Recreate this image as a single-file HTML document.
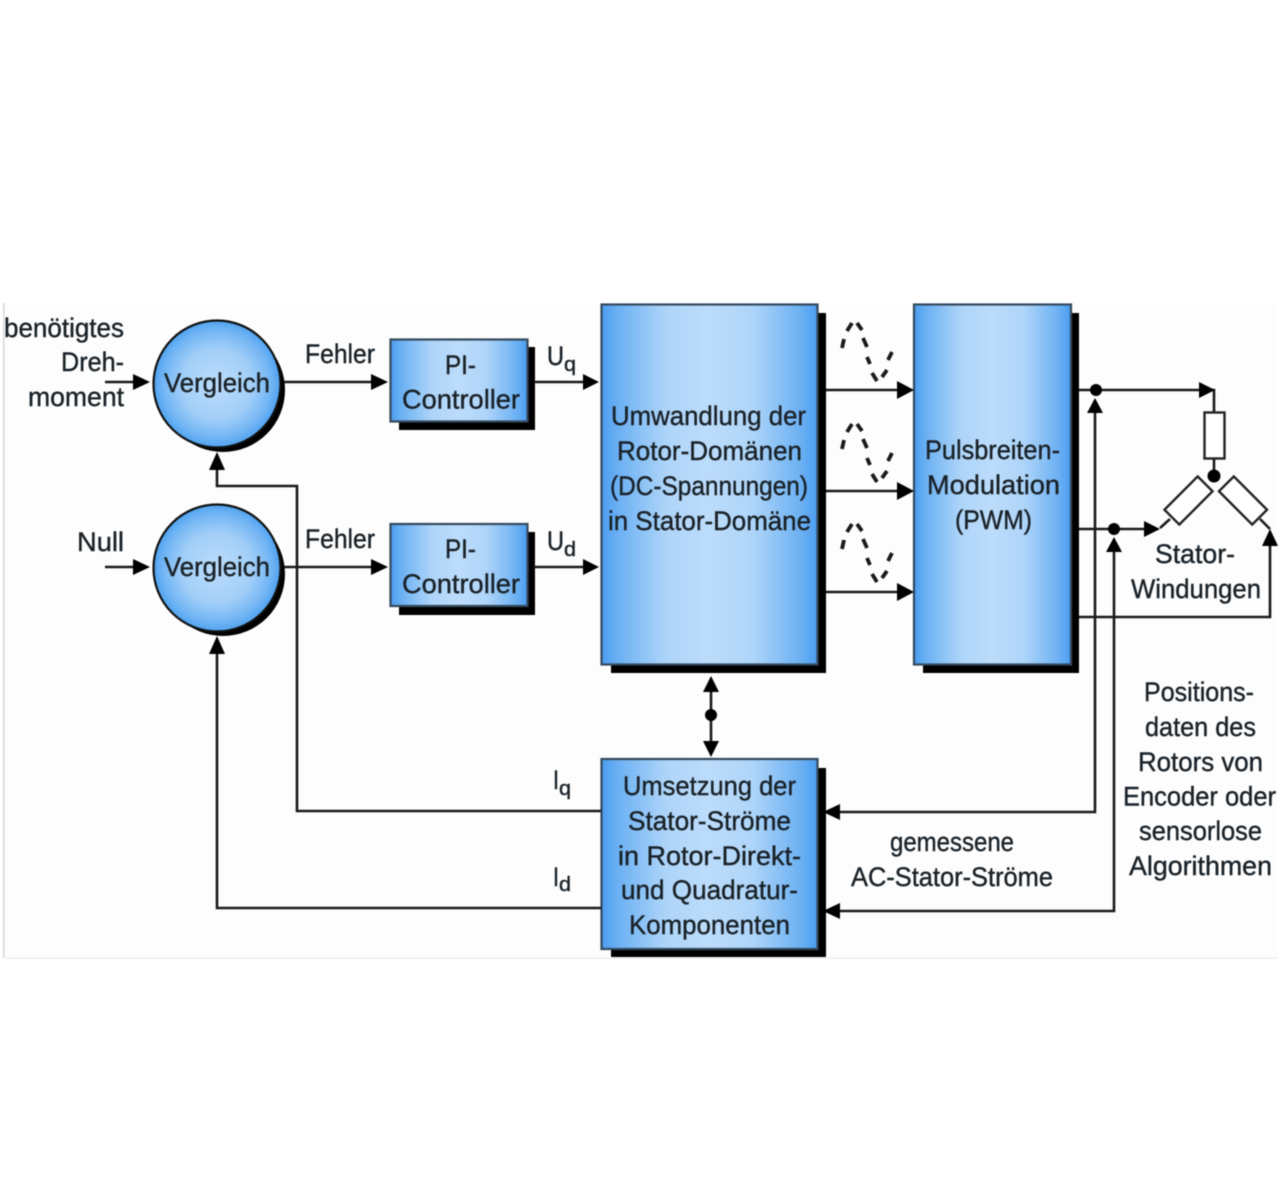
<!DOCTYPE html>
<html lang="de"><head><meta charset="utf-8"><title>Diagramm</title>
<style>
html,body{margin:0;padding:0;background:#fff;width:1280px;height:1190px;overflow:hidden}
svg{display:block;filter:blur(.55px)}
text{font-family:"Liberation Sans",sans-serif;font-size:27px;fill:#1a2228;stroke:#1a2228;stroke-width:.4}
.s{font-size:20px}
.w{fill:none;stroke:#1a1a1a;stroke-width:2.6}
.h{fill:#000}
</style></head><body>
<svg width="1280" height="1190" viewBox="0 0 1280 1190" xmlns="http://www.w3.org/2000/svg">
<defs>
<linearGradient id="g" x1="0" x2="1" y1="0" y2="0"><stop offset="0" stop-color="#4a9df0"/><stop offset=".08" stop-color="#6cb1f3"/><stop offset=".3" stop-color="#aed5f9"/><stop offset=".5" stop-color="#bcdcfb"/><stop offset=".7" stop-color="#aed5f9"/><stop offset=".92" stop-color="#6cb1f3"/><stop offset="1" stop-color="#4a9df0"/></linearGradient>
<radialGradient id="r" cx=".5" cy=".5" r=".5"><stop offset="0" stop-color="#bcdcfb"/><stop offset=".55" stop-color="#a2cff8"/><stop offset=".85" stop-color="#72b5f4"/><stop offset="1" stop-color="#4fa2f0"/></radialGradient>
</defs>
<rect x="3" y="303" width="1274" height="655" fill="#fdfdfd"/>
<rect x="3" y="303" width="1.5" height="655" fill="#d8d8d8"/>
<rect x="3" y="957.500" width="1274" height="1.5" fill="#efefef"/>

<!-- shadows -->
<circle cx="223" cy="390" r="62" fill="#000"/><circle cx="223" cy="574" r="62" fill="#000"/>
<rect x="399" y="347" width="136" height="83" fill="#000"/><rect x="399" y="532" width="136" height="83" fill="#000"/>
<rect x="611" y="313" width="215" height="360" fill="#000"/><rect x="923" y="313" width="156" height="360" fill="#000"/>
<rect x="611" y="768" width="215" height="189" fill="#000"/>

<!-- boxes -->
<circle cx="217" cy="384" r="63.500" fill="url(#r)" stroke="#111" stroke-width="2.2"/>
<circle cx="217" cy="568" r="63.500" fill="url(#r)" stroke="#111" stroke-width="2.2"/>
<g stroke="#34495c" stroke-width="2.2">
<rect x="390.500" y="339.500" width="137" height="82" fill="url(#g)"/>
<rect x="390.500" y="524" width="137" height="82" fill="url(#g)"/>
<rect x="601.500" y="304.500" width="216" height="360" fill="url(#g)"/>
<rect x="914" y="304.500" width="157" height="360" fill="url(#g)"/>
<rect x="601.500" y="759" width="216" height="190" fill="url(#g)"/>
</g>

<!-- wires -->
<g class="w">
<path d="M105 382H138M284 382H375M534 382H588M105 567H138M284 567H375M534 567H588"/>
<path d="M826 390H900M826 491H900M826 592H900"/>
<path d="M601 811H297V486H217V462M601 908H217V648"/>
<path d="M711 688V744"/>
<path d="M1079 390H1214V412M1079 529H1148M1079 617H1270V545"/>
<path d="M1095 405V812H836M1114 545V911H836"/>
<path d="M1214 459V476M1160 528L1170 519M1260 519L1270 529"/>
</g>
<rect x="1204.500" y="412.500" width="20" height="46" fill="#fff" stroke="#222" stroke-width="2.4"/>
<g fill="#fff" stroke="#222" stroke-width="2.4">
<rect x="-10.500" y="-23.500" width="21" height="47" transform="translate(1188.500 500.500) rotate(45)"/>
<rect x="-10.500" y="-23.500" width="21" height="47" transform="translate(1243 500.500) rotate(-45)"/>
</g>

<!-- arrowheads -->
<g class="h">
<path d="M150 382L133 374V390Z"/><path d="M150 567L133 559V575Z"/>
<path d="M388 382L371 374V390Z"/><path d="M388 567L371 559V575Z"/>
<path d="M599 382L583 374V390Z"/><path d="M599 567L583 559V575Z"/>
<path d="M914 390L897 381V399Z"/><path d="M914 491L897 482V500Z"/><path d="M914 592L897 583V601Z"/>
<path d="M217 452L209 470H225Z"/><path d="M217 636L209 654H225Z"/>
<path d="M711 676L703 692H719Z"/><path d="M711 757L703 741H719Z"/>
<path d="M823 812L840 804V820Z"/><path d="M823 911L840 903V919Z"/>
<path d="M1215 390L1199 382V398Z"/><path d="M1160 529L1144 521V537Z"/>
<path d="M1095 398L1087 413H1103Z"/><path d="M1114 537L1106 552H1122Z"/><path d="M1270 529L1262 546H1278Z"/>
<circle cx="1096" cy="390" r="6"/><circle cx="1114" cy="529" r="6"/><circle cx="1214" cy="476" r="6.500"/><circle cx="711" cy="715" r="6"/>
</g>

<!-- sine waves -->
<g fill="none" stroke="#1a1a1a" stroke-width="3.800">
<path id="w1" d="M842 348L844 339M847 331L852 323M857 323L862 330M863 338L867 347M867 357L870 364M872 373L877 381M882 377L887 370M888 360L892 352"/>
<path transform="translate(0 101)" d="M842 348L844 339M847 331L852 323M857 323L862 330M863 338L867 347M867 357L870 364M872 373L877 381M882 377L887 370M888 360L892 352"/>
<path transform="translate(0 201)" d="M842 348L844 339M847 331L852 323M857 323L862 330M863 338L867 347M867 357L870 364M872 373L877 381M882 377L887 370M888 360L892 352"/>
</g>

<!-- labels -->
<text x="4" y="337" textLength="120" lengthAdjust="spacingAndGlyphs">benötigtes</text>
<text x="61" y="371" textLength="63" lengthAdjust="spacingAndGlyphs">Dreh-</text>
<text x="28" y="406" textLength="96" lengthAdjust="spacingAndGlyphs">moment</text>
<text x="77" y="551" textLength="47" lengthAdjust="spacingAndGlyphs">Null</text>
<text x="164" y="392" textLength="106" lengthAdjust="spacingAndGlyphs">Vergleich</text>
<text x="164" y="576" textLength="106" lengthAdjust="spacingAndGlyphs">Vergleich</text>
<text x="305" y="363" textLength="70" lengthAdjust="spacingAndGlyphs">Fehler</text>
<text x="305" y="548" textLength="70" lengthAdjust="spacingAndGlyphs">Fehler</text>
<text x="445" y="374" textLength="31" lengthAdjust="spacingAndGlyphs">PI-</text>
<text x="402" y="408.500" textLength="118" lengthAdjust="spacingAndGlyphs">Controller</text>
<text x="445" y="558" textLength="31" lengthAdjust="spacingAndGlyphs">PI-</text>
<text x="402" y="593" textLength="118" lengthAdjust="spacingAndGlyphs">Controller</text>
<text x="547" y="365" textLength="17" lengthAdjust="spacingAndGlyphs">U</text><text class="s" x="564" y="371" textLength="12" lengthAdjust="spacingAndGlyphs">q</text>
<text x="547" y="550" textLength="17" lengthAdjust="spacingAndGlyphs">U</text><text class="s" x="564" y="556" textLength="12" lengthAdjust="spacingAndGlyphs">d</text>
<text x="611" y="425" textLength="195" lengthAdjust="spacingAndGlyphs">Umwandlung der</text>
<text x="617" y="460" textLength="185" lengthAdjust="spacingAndGlyphs">Rotor-Domänen</text>
<text x="610" y="495" textLength="198" lengthAdjust="spacingAndGlyphs">(DC-Spannungen)</text>
<text x="608" y="530" textLength="203" lengthAdjust="spacingAndGlyphs">in Stator-Domäne</text>
<text x="925" y="459" textLength="135" lengthAdjust="spacingAndGlyphs">Pulsbreiten-</text>
<text x="927" y="494" textLength="133" lengthAdjust="spacingAndGlyphs">Modulation</text>
<text x="955" y="529" textLength="77" lengthAdjust="spacingAndGlyphs">(PWM)</text>
<text x="1155" y="563" textLength="80" lengthAdjust="spacingAndGlyphs">Stator-</text>
<text x="1131" y="598" textLength="130" lengthAdjust="spacingAndGlyphs">Windungen</text>
<text x="1144" y="701" textLength="110" lengthAdjust="spacingAndGlyphs">Positions-</text>
<text x="1145" y="736" textLength="111" lengthAdjust="spacingAndGlyphs">daten des</text>
<text x="1138" y="771" textLength="125" lengthAdjust="spacingAndGlyphs">Rotors von</text>
<text x="1123" y="805.500" textLength="153" lengthAdjust="spacingAndGlyphs">Encoder oder</text>
<text x="1139" y="840" textLength="123" lengthAdjust="spacingAndGlyphs">sensorlose</text>
<text x="1129" y="875" textLength="143" lengthAdjust="spacingAndGlyphs">Algorithmen</text>
<text x="890" y="851" textLength="124" lengthAdjust="spacingAndGlyphs">gemessene</text>
<text x="851" y="886" textLength="202" lengthAdjust="spacingAndGlyphs">AC-Stator-Ströme</text>
<text x="623" y="795" textLength="173" lengthAdjust="spacingAndGlyphs">Umsetzung der</text>
<text x="628" y="830" textLength="163" lengthAdjust="spacingAndGlyphs">Stator-Ströme</text>
<text x="618" y="865" textLength="183" lengthAdjust="spacingAndGlyphs">in Rotor-Direkt-</text>
<text x="621" y="899" textLength="177" lengthAdjust="spacingAndGlyphs">und Quadratur-</text>
<text x="629" y="934" textLength="161" lengthAdjust="spacingAndGlyphs">Komponenten</text>
<text x="553" y="789" textLength="6" lengthAdjust="spacingAndGlyphs">I</text><text class="s" x="559" y="795" textLength="12" lengthAdjust="spacingAndGlyphs">q</text>
<text x="553" y="886" textLength="6" lengthAdjust="spacingAndGlyphs">I</text><text class="s" x="559" y="891" textLength="12" lengthAdjust="spacingAndGlyphs">d</text>
</svg>
</body></html>
